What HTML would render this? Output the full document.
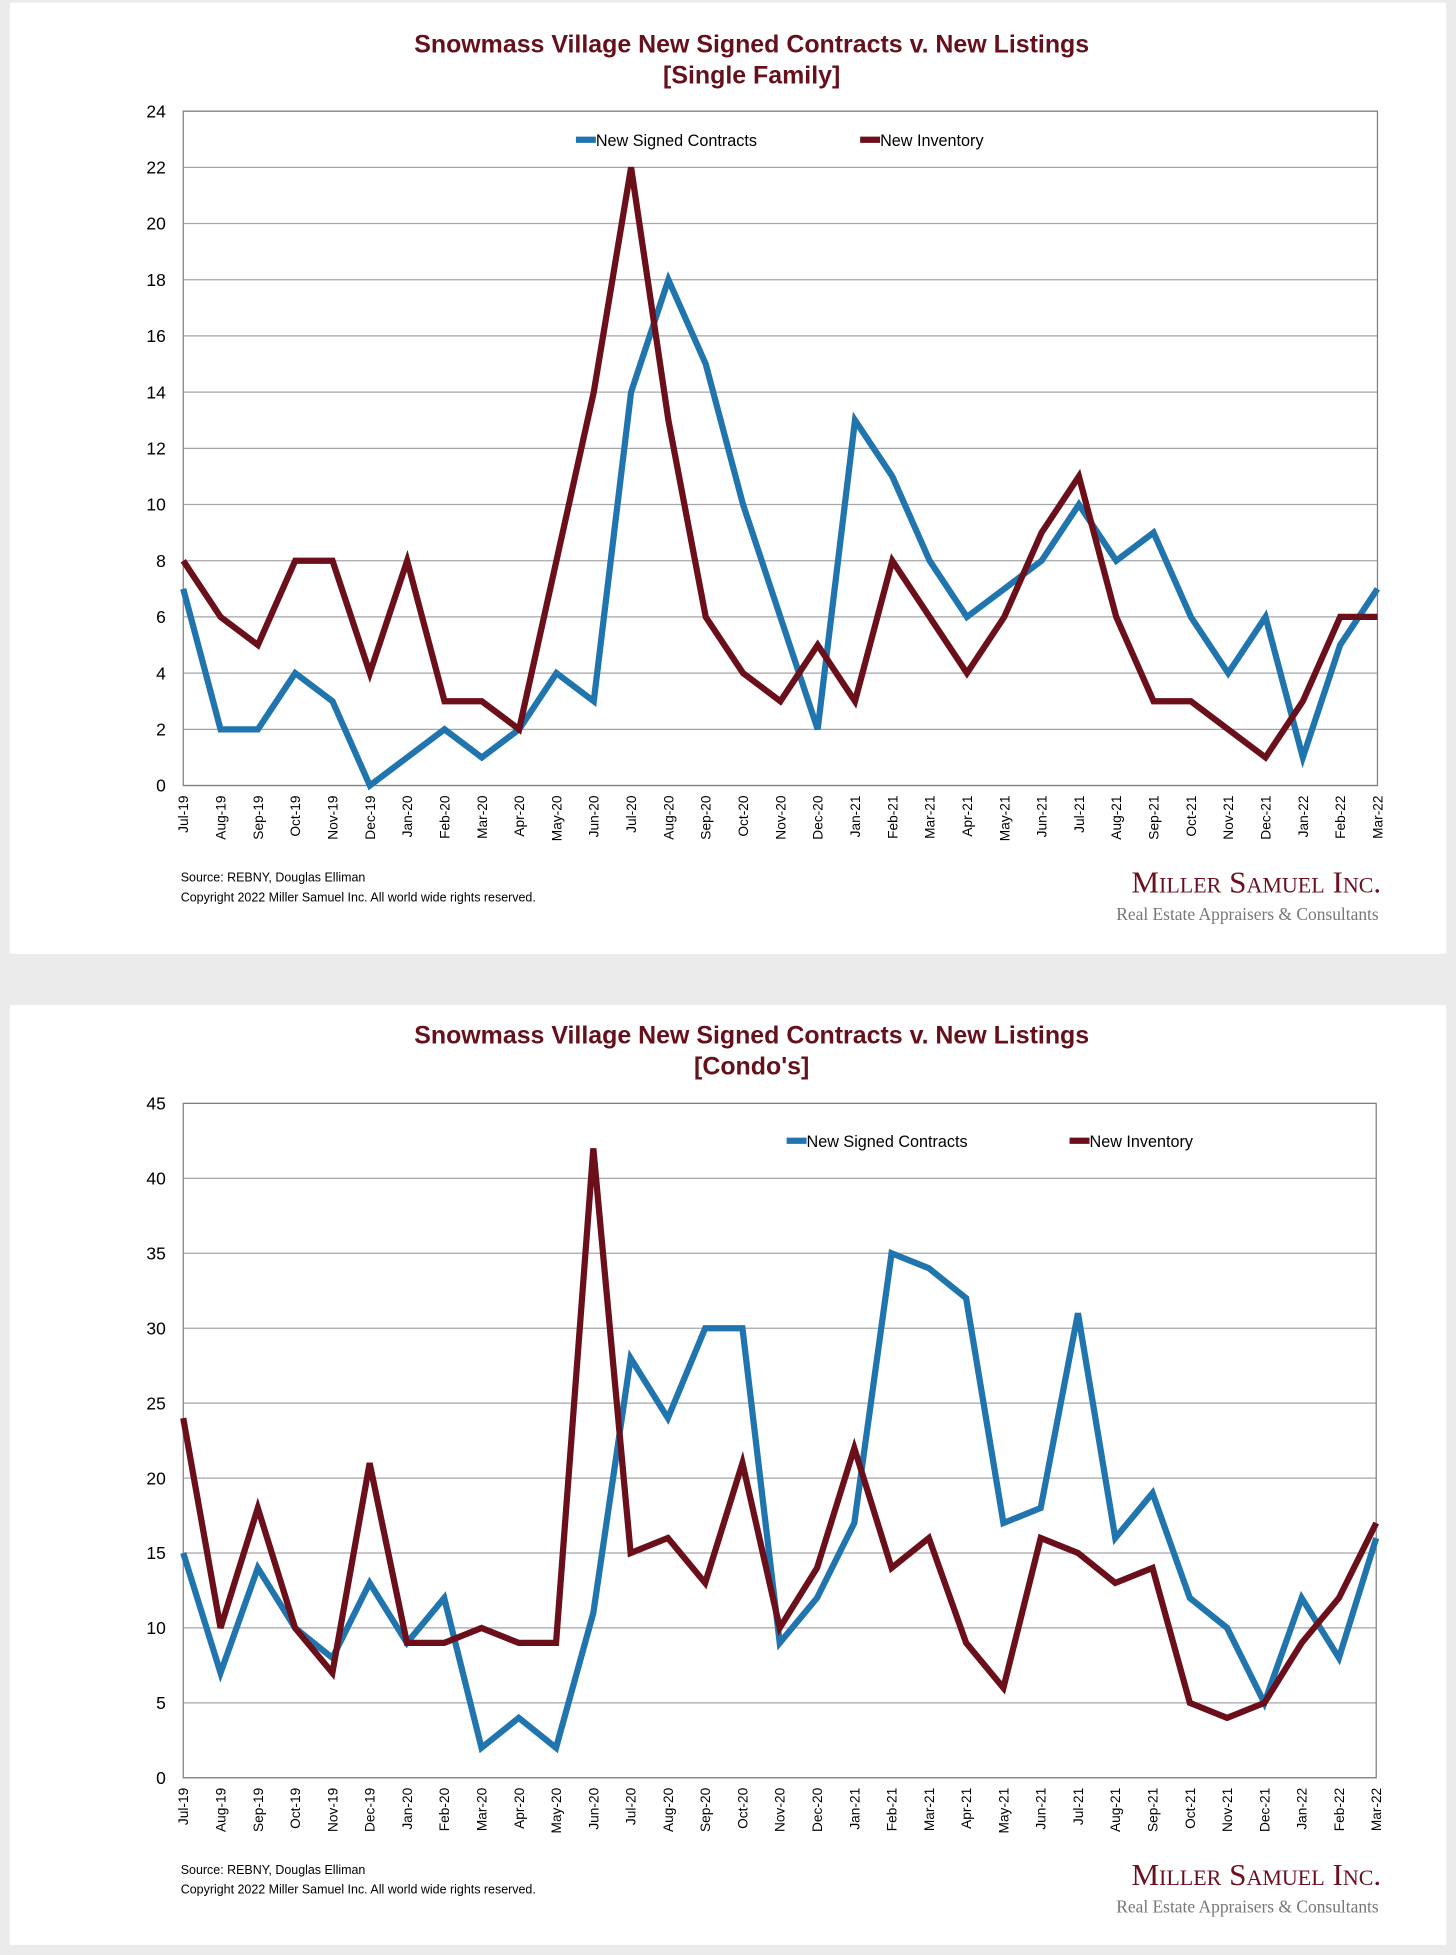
<!DOCTYPE html>
<html><head><meta charset="utf-8"><style>
html,body{margin:0;padding:0;background:#ebebeb;}
svg{display:block;}
</style></head><body>
<svg id="root" width="1456" height="1955" viewBox="0 0 1168 1568" xmlns="http://www.w3.org/2000/svg" font-family="Liberation Sans, Arial, sans-serif">
<rect x="0" y="0" width="1168" height="1568" fill="#ebebeb"/>
<rect x="8" y="2" width="1152" height="763" fill="#fff"/>
<rect x="8" y="806" width="1152" height="754" fill="#fff"/>
<g id="c1"></g>
<g id="c2"></g>
</svg>
<script>
const months = ["Jul-19","Aug-19","Sep-19","Oct-19","Nov-19","Dec-19","Jan-20","Feb-20","Mar-20","Apr-20","May-20","Jun-20","Jul-20","Aug-20","Sep-20","Oct-20","Nov-20","Dec-20","Jan-21","Feb-21","Mar-21","Apr-21","May-21","Jun-21","Jul-21","Aug-21","Sep-21","Oct-21","Nov-21","Dec-21","Jan-22","Feb-22","Mar-22"];
const sfContracts = [7,2,2,4,3,0,1,2,1,2,4,3,14,18,15,10,6,2,13,11,8,6,7,8,10,8,9,6,4,6,1,5,7];
const sfInventory = [8,6,5,8,8,4,8,3,3,2,8,14,22,13,6,4,3,5,3,8,6,4,6,9,11,6,3,3,2,1,3,6,6];
const sfTicks = [0,2,4,6,8,10,12,14,16,18,20,22,24];
const cdContracts = [15,7,14,10,8,13,9,12,2,4,2,11,28,24,30,30,9,12,17,35,34,32,17,18,31,16,19,12,10,5,12,8,16];
const cdInventory = [24,10,18,10,7,21,9,9,10,9,9,42,15,16,13,21,10,14,22,14,16,9,6,16,15,13,14,5,4,5,9,12,17];
const cdTicks = [0,5,10,15,20,25,30,35,40,45];
const NS="http://www.w3.org/2000/svg";
function mk(parent,tag,attrs,text){const e=document.createElementNS(NS,tag);for(const k in attrs)e.setAttribute(k,attrs[k]);if(text!==undefined)e.textContent=text;parent.appendChild(e);return e;}
function chart(g,o){
  const t1=mk(g,'text',{x:603,y:o.ty,'text-anchor':'middle','font-size':20,'font-weight':'bold',fill:'#66101c'},o.title);
  
  
  const t2=mk(g,'text',{x:603,y:o.ty+25,'text-anchor':'middle','font-size':20,'font-weight':'bold',fill:'#66101c'},o.sub);
  
  
  const x0=o.x0,x1=o.x1,y0=o.y0,y1=o.y1,max=o.ticks[o.ticks.length-1];
  const X=i=>x0+(x1-x0)*i/(months.length-1);
  const Y=v=>y0-(y0-y1)*v/max;
  o.ticks.forEach(t=>{
    const l=mk(g,'line',{x1:x0,x2:x1,y1:Y(t),y2:Y(t),stroke:'#a6a6a6','stroke-width':1});
    
    
    const tx=mk(g,'text',{x:x0-14,y:Y(t)+5,'text-anchor':'end','font-size':14,fill:'#000'},t);
    
    
  });
  const fr=mk(g,'rect',{x:x0,y:y1,width:x1-x0,height:y0-y1,fill:'none',stroke:'#808080','stroke-width':1});
  
  
  months.forEach((m,i)=>{
    const tx=mk(g,'text',{transform:`translate(${X(i)+4},${y0+8}) rotate(-90)`,'text-anchor':'end','font-size':11,fill:'#000'},m);
    
    
  });
  const series=[[o.c,'#2075ae','contracts-line'],[o.inv,'#6b0f1a','inventory-line']];
  series.forEach(([d,col,nm])=>{
    const p=mk(g,'polyline',{points:d.map((v,i)=>X(i)+','+Y(v)).join(' '),fill:'none',stroke:col,'stroke-width':5,'stroke-linejoin':'miter'});
    
    
  });
  [[o.lx1,'#2075ae','New Signed Contracts'],[o.lx2,'#6b0f1a','New Inventory']].forEach(([lx,col,lab])=>{
    const l=mk(g,'line',{x1:lx,x2:lx+16,y1:o.ly,y2:o.ly,stroke:col,'stroke-width':5});
    
    
    const tx=mk(g,'text',{x:lx+16,y:o.ly+5,'font-size':13,fill:'#000'},lab);
    
    
  });
  const s1=mk(g,'text',{x:145,y:o.sy,'font-size':10,fill:'#000'},'Source: REBNY, Douglas Elliman');
  
  
  const s2=mk(g,'text',{x:145,y:o.sy+16,'font-size':10,fill:'#000'},'Copyright 2022 Miller Samuel Inc.  All world wide rights reserved.');
  
  
  const lg=mk(g,'text',{x:1108,y:o.sy+9,'text-anchor':'end','font-size':25,fill:'#6b1020','font-family':'Liberation Serif, serif','font-variant':'small-caps'},'Miller Samuel Inc.');
  
  
  const lg2=mk(g,'text',{x:1106,y:o.sy+31,'text-anchor':'end','font-size':14,fill:'#777','font-family':'Liberation Serif, serif'},'Real Estate Appraisers & Consultants');
  
  
}
chart(document.getElementById('c1'),{title:'Snowmass Village New Signed Contracts v. New Listings',sub:'[Single Family]',ty:42,x0:147,x1:1105,y0:630,y1:89,ticks:sfTicks,c:sfContracts,inv:sfInventory,lx1:462,lx2:690,ly:112,sy:707});
chart(document.getElementById('c2'),{title:'Snowmass Village New Signed Contracts v. New Listings',sub:"[Condo's]",ty:837,x0:147,x1:1104,y0:1426,y1:885,ticks:cdTicks,c:cdContracts,inv:cdInventory,lx1:631,lx2:858,ly:915,sy:1503});
</script>
</body></html>
